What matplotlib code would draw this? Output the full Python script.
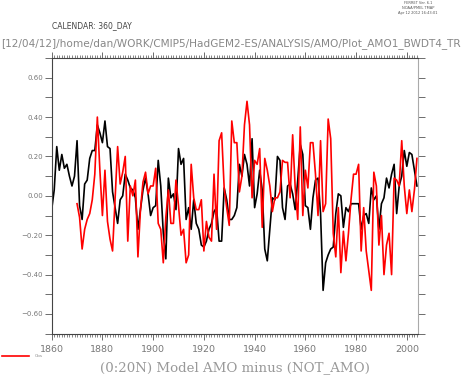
import numpy as np
import matplotlib
matplotlib.use("Agg")
import matplotlib.pyplot as plt
from matplotlib.ticker import MultipleLocator, FuncFormatter

# model series (black), annual 1860-2004
model_years = list(range(1860, 2005))
model = [
    -0.07, 0.03, 0.25, 0.13, 0.21, 0.14, 0.16, 0.10, 0.05, 0.10,
    0.28, -0.05, -0.12, 0.06, 0.08, 0.19, 0.23, 0.23, 0.36, 0.32,
    0.27, 0.38, 0.25, 0.24, 0.02, -0.06, -0.14, -0.02, 0.00, 0.11,
    0.08, 0.04, 0.03, -0.01, -0.17, -0.07, 0.03, 0.09, 0.01, -0.10,
    -0.06, -0.05, 0.18, 0.05, -0.19, -0.32, 0.09, -0.01, 0.01, -0.07,
    0.24, 0.16, 0.19, -0.12, -0.06, -0.17, -0.02, -0.14, -0.17, -0.25,
    -0.26, -0.23, -0.17, -0.14, -0.08, -0.06, -0.23, -0.23, 0.04, -0.02,
    -0.12, -0.12, -0.10, -0.06, 0.16, 0.10, 0.21, 0.16, 0.05, 0.29,
    -0.06, 0.01, 0.13, 0.03, -0.27, -0.33, -0.17, -0.01, -0.02, 0.20,
    0.18, -0.06, -0.12, 0.05, 0.06, 0.01, -0.07, 0.08, 0.26, 0.21,
    -0.05, -0.06, -0.17, -0.01, 0.08, 0.09, -0.09, -0.48, -0.34, -0.30,
    -0.27, -0.26, -0.09, 0.01, 0.00, -0.16, -0.06, -0.08, -0.04, -0.04,
    -0.04, -0.04, -0.17, -0.10, -0.09, -0.14, 0.04, -0.02, 0.00, -0.17,
    -0.04, -0.01, 0.09, 0.04, 0.11, 0.16, -0.09, 0.05, 0.10, 0.23,
    0.15, 0.22, 0.21, 0.13, 0.05,
]

# observations (red), annual 1870-2004
obs_years = list(range(1870, 2005))
obs = [
    -0.04, -0.11, -0.27, -0.17, -0.12, -0.09, -0.02, 0.11, 0.40, 0.13,
    -0.10, 0.13, -0.13, -0.22, -0.28, -0.02, 0.25, 0.06, 0.12, 0.20,
    -0.23, 0.05, 0.00, 0.08, -0.31, -0.07, 0.07, 0.12, 0.01, 0.05,
    0.05, 0.14, -0.14, -0.17, -0.34, -0.11, 0.03, -0.14, -0.14, 0.08,
    -0.05, -0.20, -0.17, -0.34, -0.30, 0.16, -0.01, -0.07, -0.07, -0.02,
    -0.28, -0.13, -0.21, -0.23, 0.11, -0.17, 0.28, 0.32, 0.04, -0.06,
    -0.15, 0.38, 0.27, 0.27, 0.02, 0.10, 0.36, 0.48, 0.36, -0.01,
    0.18, 0.16, 0.24, -0.16, 0.19, 0.13, 0.05, -0.08, -0.01, -0.01,
    0.02, 0.18, 0.17, 0.17, -0.01, 0.31, 0.04, -0.12, 0.35, -0.10,
    0.13, 0.04, 0.27, 0.27, 0.11, -0.10, 0.28, -0.08, -0.04, 0.39,
    0.29, -0.19, -0.31, -0.06, -0.39, -0.18, -0.33, -0.19, -0.02, 0.11,
    0.11, 0.16, -0.28, -0.06, -0.28, -0.38, -0.48, 0.12, 0.05, -0.25,
    -0.10, -0.40, -0.25, -0.19, -0.40, 0.09, 0.08, 0.05, 0.28, 0.05,
    -0.09, 0.03, -0.08, 0.03, 0.19,
]

fig = plt.figure(figsize=(4.75, 3.77), dpi=100)
ax = fig.add_axes([0.1088, 0.1149, 0.7722, 0.7313])

ax.plot(model_years, model, color="black", lw=1.2)
ax.plot(obs_years, obs, color="#ff0000", lw=1.2)

ax.set_xlim(1860, 2004.6)
ax.set_ylim(-0.7, 0.7)

# FERRET style axes: ticks outward on all four sides
ax.xaxis.set_major_locator(MultipleLocator(20))
ax.xaxis.set_minor_locator(MultipleLocator(1))
ax.yaxis.set_major_locator(MultipleLocator(0.2))
ax.yaxis.set_minor_locator(MultipleLocator(0.1))
ax.yaxis.set_major_formatter(FuncFormatter(lambda v, p: ("%.2f" % v).replace("-", "\u2212")))

ax.tick_params(axis="x", which="major", direction="out", length=4, width=0.6,
               top=True, labelsize=6.8, labelcolor="#777777", color="#555555", pad=4)
ax.tick_params(axis="x", which="minor", direction="out", length=2, width=0.5,
               top=True, color="#555555")
ax.tick_params(axis="y", which="both", direction="out", length=4.8, width=0.6,
               right=True, labelsize=5, labelcolor="#777777", color="#555555", pad=1.5)

for side in ["left", "bottom", "top"]:
    ax.spines[side].set_color("#444444")
    ax.spines[side].set_linewidth(0.8)
ax.spines["right"].set_color("#aaaaaa")
ax.spines["right"].set_linewidth(0.8)

# header texts
fig.text(0.002, 1 - 44 / 377,
         "[12/04/12]/home/dan/WORK/CMIP5/HadGEM2-ES/ANALYSIS/AMO/Plot_AMO1_BWDT4_TR",
         fontsize=7.6, color="#888888", ha="left", va="center")
fig.text(52 / 475, 1 - 26 / 377, "CALENDAR: 360_DAY", fontsize=5.5,
         color="#444444", ha="left", va="center")
fig.text(418 / 475, 1 - 8 / 377, "FERRET Ver. 6.1\nNOAA/PMEL TMAP\nApr 12 2012 16:43:01",
         fontsize=2.6, color="#555555", ha="center", va="center", linespacing=1.2)

# bottom title and legend
fig.text(235 / 475, 1 - 368 / 377, "(0:20N) Model AMO minus (NOT_AMO)",
         fontsize=9.6, family="DejaVu Serif", color="#999999", ha="center", va="center")
fig.add_artist(plt.Line2D([2 / 475, 29 / 475], [1 - 356 / 377, 1 - 356 / 377],
                          color="#ff0000", lw=1.2))
fig.text(35 / 475, 1 - 356 / 377, "Obs", fontsize=3, color="#888888",
         ha="left", va="center")

fig.savefig("out.png", dpi=100)
